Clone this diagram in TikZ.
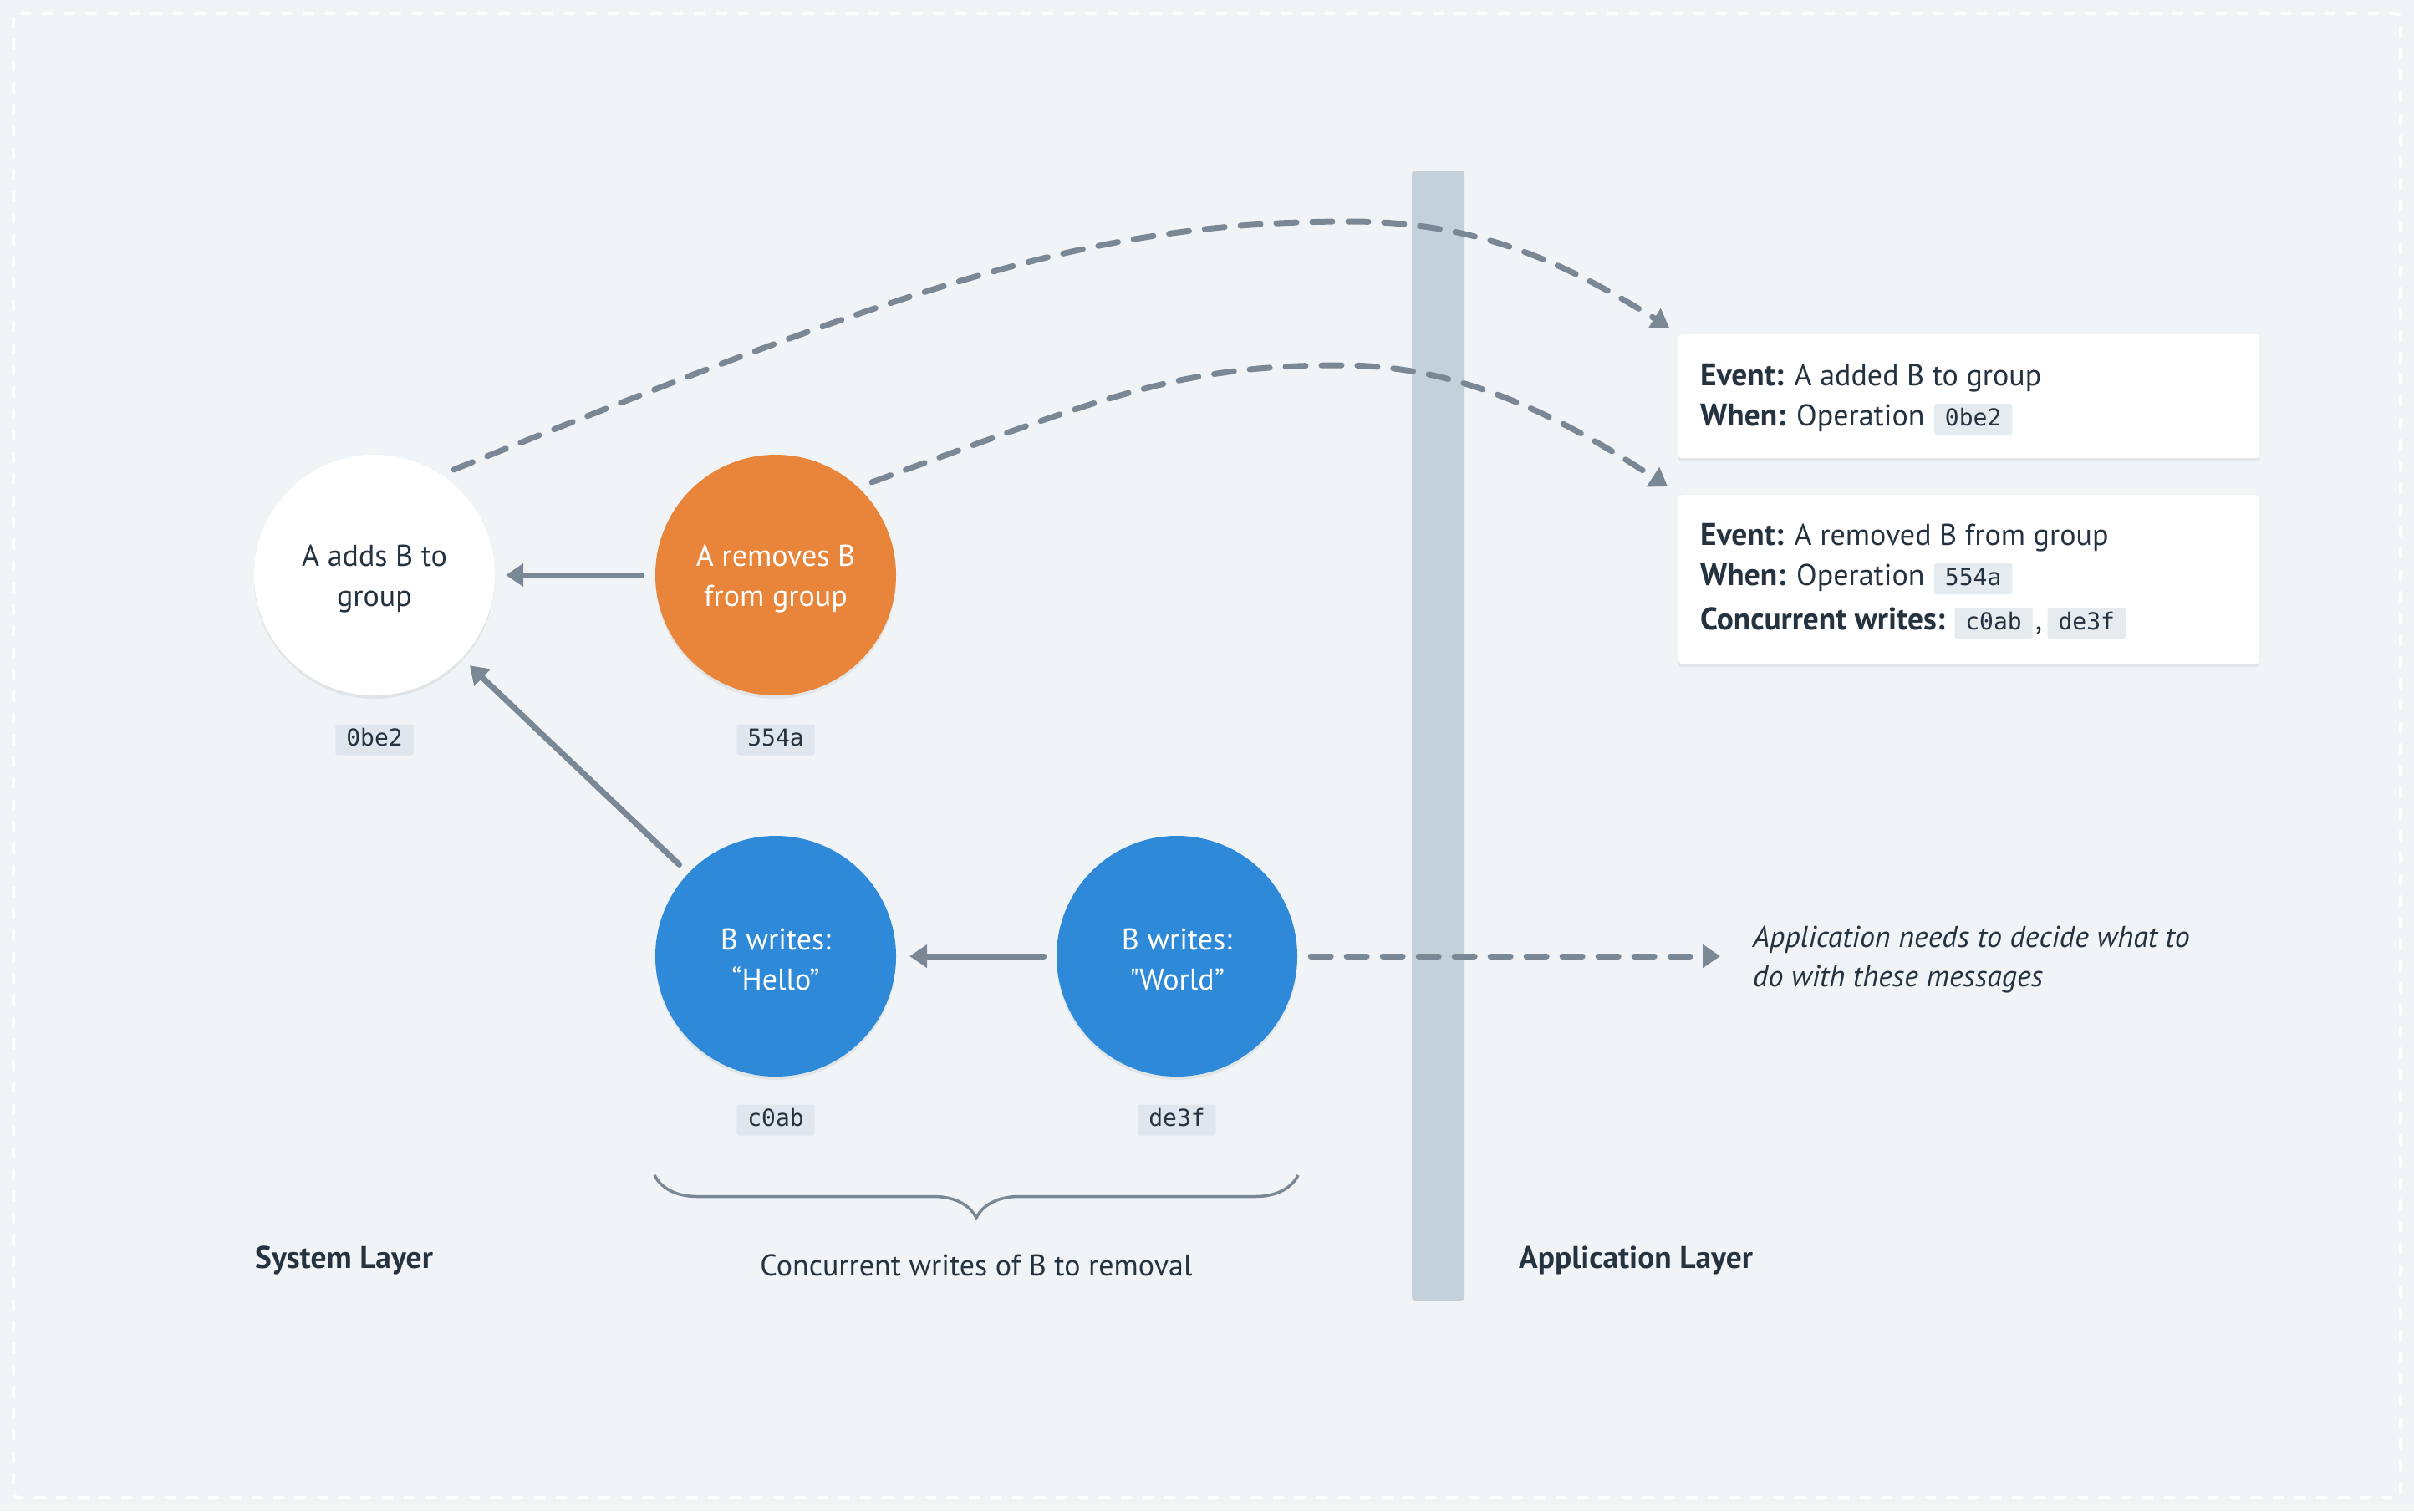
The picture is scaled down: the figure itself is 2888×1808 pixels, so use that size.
\documentclass[tikz,border=0pt]{standalone}
\usepackage{fontspec}
\setmainfont{PT Sans}[BoldFeatures={Scale=1.04}]
\setmonofont{DejaVu Sans Mono}
\usetikzlibrary{arrows.meta,calc,decorations.pathreplacing,shadows}
\definecolor{bgc}{HTML}{F0F4F7}
\definecolor{edgec}{HTML}{7A8896}
\definecolor{barc}{HTML}{C4D0DA}
\definecolor{textc}{HTML}{25323F}
\definecolor{orangec}{HTML}{E8853A}
\definecolor{bluec}{HTML}{2E89D9}
\definecolor{tagbg}{HTML}{DFE6ED}
\definecolor{tagbgw}{HTML}{E6EBF0}
\newcommand{\cstrut}{\rule{0pt}{34pt}}
\newcommand{\straightdq}{\XeTeXglyph\XeTeXcharglyph"0022\relax}
\begin{document}
\begin{tikzpicture}[x=1pt,y=1pt,
  softshadow/.style={drop shadow={shadow xshift=0pt,shadow yshift=-4pt,opacity=.06,fill=black}},
  circ/.style={circle,minimum size=288pt,inner sep=0pt,align=center,
    font=\fontsize{36}{48}\selectfont,softshadow},
  txt/.style={inner sep=0pt,text=textc,font=\fontsize{36}{48}\selectfont},
  tagc/.style={fill=tagbg,rounded corners=3pt,text=textc,
    font=\fontsize{28}{28}\selectfont\ttfamily,
    inner xsep=13pt,inner ysep=3pt,text height=23pt,text depth=8pt},
  evbox/.style={fill=white,rounded corners=4pt,inner sep=0pt,softshadow},
  arr/.style={draw=edgec,line width=7pt,line cap=round,
    -{Triangle[length=21pt,width=27pt]}},
  dasharr/.style={arr,dash pattern=on 24pt off 19pt},
  barbox/.style={fill=barc,rounded corners=4pt,inner sep=0pt}
]
\useasboundingbox (0,0) rectangle (2888,-1808);
\fill[bgc] (0,0) rectangle (2888,-1808);
\draw[white,line width=4pt,dash pattern=on 10pt off 16pt,line cap=round,
  rounded corners=6pt] (16,-16) rectangle (2872,-1792);

% layer bar
\node[barbox,minimum width=63pt,minimum height=1352pt] (bar) at (1720.5,-880) {};

% circles
\node[circ,fill=white,text=textc] (A) at (448,-688) {\cstrut A adds B to\\group};
\node[circ,fill=orangec,text=white] (R) at (928,-688) {\cstrut A removes B\\from group};
\node[circ,fill=bluec,text=white] (H) at (928,-1144) {\cstrut B writes:\\“Hello”};
\node[circ,fill=bluec,text=white] (W) at (1408,-1144) {\cstrut B writes:\\\straightdq World”};

% tags
\node[tagc] (tA) at (448,-885) {0be2};
\node[tagc] (tR) at (928,-885) {554a};
\node[tagc] (tH) at (928,-1340) {c0ab};
\node[tagc] (tW) at (1408,-1340) {de3f};

% event boxes
\node[evbox,minimum width=695pt,minimum height=148pt,anchor=north west] (ev1) at (2008,-400) {};
\node[evbox,minimum width=695pt,minimum height=202pt,anchor=north west] (ev2) at (2008,-592) {};

\node[txt,anchor=base west] (e1a) at (2034,-461) {\textbf{Event:} A added B to group};
\node[txt,anchor=base west] (e1b) at (2034,-509) {\textbf{When:} Operation};
\node[tagc,fill=tagbgw,anchor=base west,xshift=11pt] (e1t) at (e1b.base east) {0be2};

\node[txt,anchor=base west] (e2a) at (2034,-652) {\textbf{Event:} A removed B from group};
\node[txt,anchor=base west] (e2b) at (2034,-700) {\textbf{When:} Operation};
\node[tagc,fill=tagbgw,anchor=base west,xshift=11pt] (e2t) at (e2b.base east) {554a};
\node[txt,anchor=base west] (e2c) at (2034,-753) {\textbf{Concurrent writes:}};
\node[tagc,fill=tagbgw,anchor=base west,xshift=11pt] (e2t1) at (e2c.base east) {c0ab};
\node[txt,anchor=base west,xshift=3pt] (e2k) at (e2t1.base east) {,};
\node[tagc,fill=tagbgw,anchor=base west,xshift=6pt] (e2t2) at (e2k.base east) {de3f};

% solid arrows
\draw[arr,shorten <=16pt,shorten >=13pt] (R) -- (A);
\draw[arr,shorten <=15pt,shorten >=13pt] (H) -- (A);
\draw[arr,shorten <=15pt,shorten >=16pt] (W) -- (H);

% dashed curves
\coordinate (p1s) at ($(A.center)+(53:158)$);
\coordinate (p1e) at ($(ev1.north west)+(-11,8)$);
\coordinate (p2s) at ($(R.center)+(44:160)$);
\coordinate (p2e) at ($(ev2.north west)+(-13,10)$);
\draw[dasharr] (p1s) .. controls (1099,-337) and (1310,-265) .. (1615,-265)
  .. controls (1765,-265) and (1870,-312.5) .. (p1e);
\draw[dasharr] (p2s) .. controls (1325,-474) and (1410,-437) .. (1605,-437)
  .. controls (1750,-437) and (1869,-500) .. (p2e);

% dashed arrow to note
\coordinate (noteIn) at (2058,-1144);
\draw[dasharr,shorten <=16pt] (W) -- (noteIn);
\node[txt,anchor=west,align=left,font=\fontsize{36}{47}\selectfont\itshape] (note)
  at (2097,-1148) {Application needs to decide what to\\do with these messages};

% brace
\draw[edgec,line width=3.5pt,decorate,decoration={brace,amplitude=51pt,mirror}]
  (783,-1406) -- (1553,-1406);
\node[txt,anchor=base] (conc) at (1168,-1526) {Concurrent writes of B to removal};

% layer labels
\node[txt,anchor=base west,font=\fontsize{36}{48}\selectfont\bfseries] (sys) at (305,-1517) {System Layer};
\node[txt,anchor=base west,font=\fontsize{36}{48}\selectfont\bfseries] (app) at (1817,-1517) {Application Layer};
\end{tikzpicture}
\end{document}
